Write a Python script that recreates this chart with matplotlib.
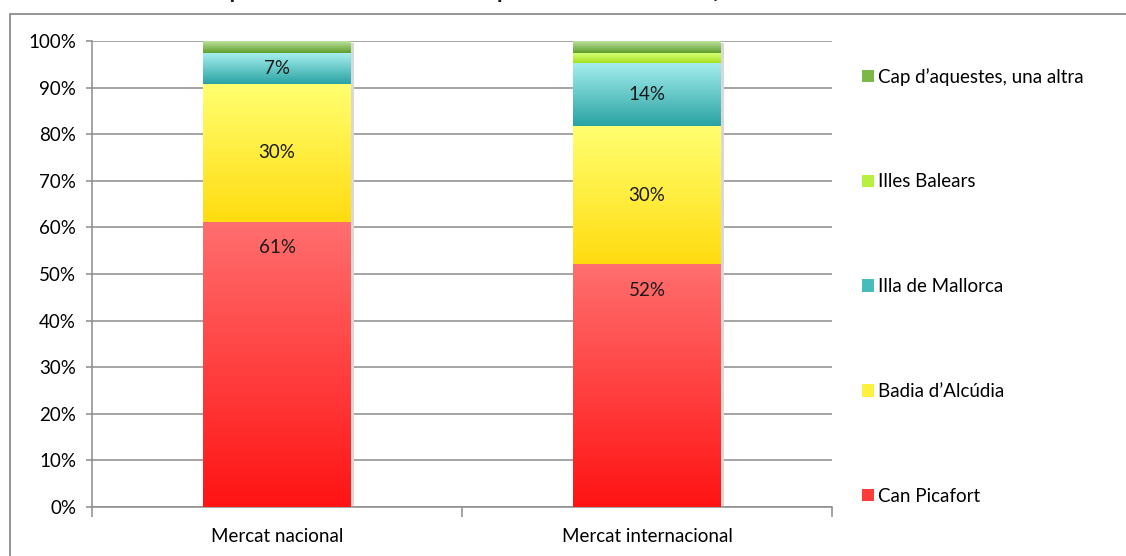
import matplotlib
matplotlib.use("Agg")
import matplotlib.pyplot as plt
from matplotlib.patches import Patch, Rectangle
from matplotlib.colors import LinearSegmentedColormap
import numpy as np

plt.rcParams['font.family'] = ['Lato', 'DejaVu Sans']

mercats = ["Mercat nacional", "Mercat internacional"]
marques = ["Can Picafort", "Badia d\u2019Alc\u00fadia", "Illa de Mallorca",
           "Illes Balears", "Cap d\u2019aquestes, una altra"]
# percentatges per marca (nacional, internacional)
can_picafort = [61.2, 52.1]
badia = [29.6, 29.6]
mallorca = [6.6, 13.6]
illes_balears = [0.0, 2.1]
cap = [2.6, 2.6]
series = [can_picafort, badia, mallorca, illes_balears, cap]

# (color de dalt, color de baix) per cada serie
gradients = [("#ff6e6e", "#ff1414"),
             ("#ffff70", "#ffdc10"),
             ("#a6eeee", "#2aa3a3"),
             ("#d4ff78", "#a6e01c"),
             ("#c4e8a6", "#5e9e2c")]
legend_cols = ["#ff3c3c", "#fff040", "#48bcbc", "#b8f040", "#7cb848"]

fig = plt.figure(figsize=(11.26, 5.56), dpi=100)
ax = fig.add_axes([92/1126, 49/556, 740/1126, 466/556])

x = np.arange(len(mercats))
w = 0.40
bottom = np.zeros(len(mercats))
for vals, (ctop, cbot) in zip(series, gradients):
    vals = np.array(vals)
    # ombra
    ax.bar(x + 0.008, vals, w, bottom=bottom - 0.4, color="#d8d8d8", zorder=2, linewidth=0)
    bars = ax.bar(x, vals, w, bottom=bottom, color="none", zorder=3, linewidth=0)
    cmap = LinearSegmentedColormap.from_list("g", [cbot, ctop])
    grad = np.linspace(1, 0, 64).reshape(-1, 1)
    for b in bars:
        if b.get_height() <= 0:
            continue
        ax.imshow(grad, cmap=cmap, aspect="auto", interpolation="bilinear",
                  extent=[b.get_x(), b.get_x() + b.get_width(), b.get_y(), b.get_y() + b.get_height()],
                  zorder=3, vmin=0, vmax=1)
    bottom = bottom + vals

# etiquetes de dades
bottom = np.zeros(len(mercats))
for k, vals in enumerate(series):
    for i, v in enumerate(vals):
        if v >= 5:
            if k == 0:
                yp = bottom[i] + v - 5.6
            else:
                yp = bottom[i] + v / 2
            ax.text(x[i], yp, f"{v:.0f}%", ha="center", va="center", fontsize=13.5,
                    color="#1a1a1a", zorder=5)
    bottom = bottom + np.array(vals)

ax.set_xlim(-0.5, 1.5)
ax.set_ylim(0, 100)
ax.set_yticks(np.arange(0, 101, 10))
ax.set_yticklabels([f"{t}%" for t in range(0, 101, 10)], fontsize=13.5)
ax.yaxis.grid(True, color="#8c8c8c", linewidth=1.1, zorder=0)
ax.set_axisbelow(True)
ax.set_xticks([-0.5, 0.5, 1.5])
ax.set_xticklabels([])
ax.set_xticks(x, minor=True)
ax.set_xticklabels(mercats, minor=True, fontsize=13.5)
ax.tick_params(axis="x", which="major", length=7, color="#8c8c8c", width=1.1)
ax.tick_params(axis="x", which="minor", length=0, pad=15)
ax.tick_params(axis="y", length=4.5, color="#8c8c8c", width=1.1, pad=7)
for s in ["top", "right"]:
    ax.spines[s].set_visible(False)
for s in ["left", "bottom"]:
    ax.spines[s].set_color("#8c8c8c")
    ax.spines[s].set_linewidth(1.1)

handles = [Patch(facecolor=c, edgecolor="none") for c in legend_cols]
leg = fig.legend(handles[::-1], marques[::-1], loc="upper left",
                 bbox_to_anchor=(845/1126, 1 - 51/556), frameon=False, fontsize=13.5,
                 labelspacing=4.68, handlelength=0.65, handleheight=0.65, handletextpad=0.22)

# marc del grafic
fig.add_artist(Rectangle((10/1126, -0.01), 1.2, 1 - 14/556 + 0.01, transform=fig.transFigure,
                         fill=False, edgecolor="#8c8c8c", linewidth=1.3))

# titol, retallat a la part de dalt com a l'original
fig.text(0.53, 1 + 1.5/556, "Amb quina marca associa m\u00e9s la promoci\u00f3 de Can Picafort com a destinaci\u00f3 tur\u00edstica?",
         ha="center", va="baseline", fontsize=17, fontweight="bold", fontstyle="italic", color="#1a1a1a")

fig.savefig("out.png", dpi=100)
